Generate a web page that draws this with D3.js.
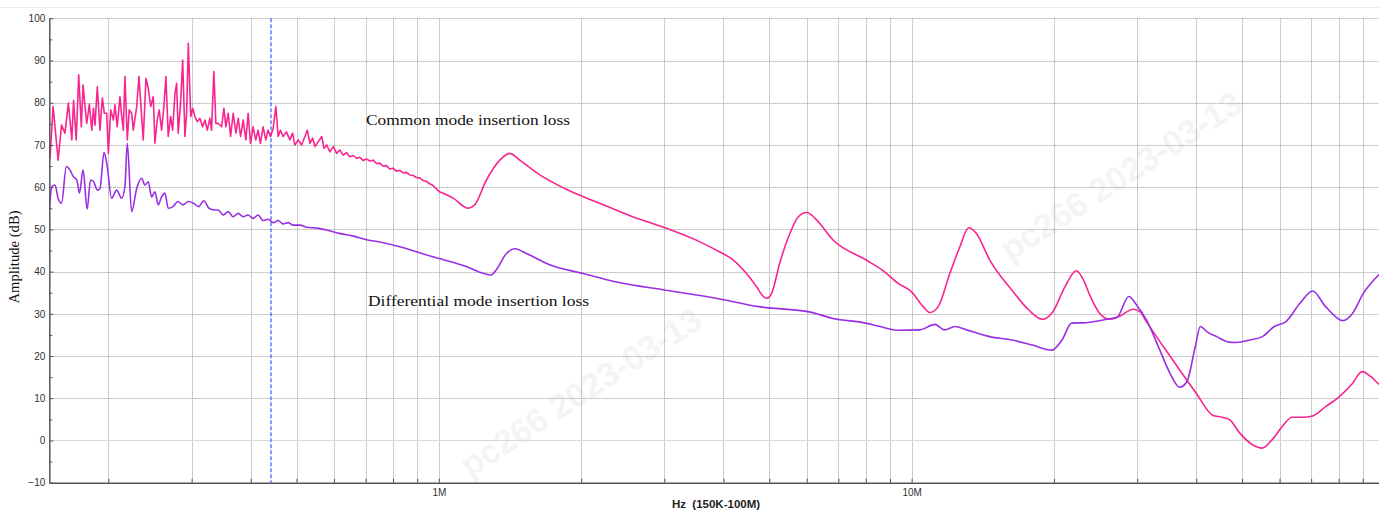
<!DOCTYPE html>
<html>
<head>
<meta charset="utf-8">
<script src="https://cdn.jsdelivr.net/npm/d3@7"></script>
<style>
  body { margin: 0; background: #fff; }
  svg { display: block; background: #fff; }
  .grid line { stroke: #9a9a9a; stroke-width: 1; stroke-dasharray: 1,1; }
  .axis path, .axis line { stroke: #555; }
  .axis path { stroke-width: 1.5; }
  .axis text { font-family: 'Liberation Sans', Arial, sans-serif; font-size: 10px; fill: #333; }
  .note { font-family: 'Liberation Serif', 'Times New Roman', serif; fill: #111; }
  .watermark { font-family: 'Liberation Sans', Arial, sans-serif; font-weight: bold; font-size: 34px; fill: #f4f4f4; }
</style>
</head>
<body>
<div id="chart"></div>
<script>
// frequencies are in MHz, amplitudes in dB
const gridFreqs = [0.2, 0.3, 0.4, 0.5, 0.6, 0.7, 0.8, 0.9, 1, 2, 3, 4, 5, 6, 7, 8, 9, 10, 20, 30, 40, 50, 60, 70, 80, 90]
const xLabelFreqs = [1, 10]
const xLabelText = ['1M', '10M']
const yTicks = [-10, 0, 10, 20, 30, 40, 50, 60, 70, 80, 90, 100]
const yMinorTicks = [-5, 5, 15, 25, 35, 45, 55, 65, 75, 85, 95]
const markerFreq = 0.442
// below this the pink trace is raw noise, drawn with straight segments
const noiseEnd = 1.0

// common mode insertion loss (pink)
const cmFreq = [
  0.1505, 0.1528, 0.1566, 0.1592, 0.1619, 0.1646, 0.1674, 0.1688, 0.1710, 0.1731,
  0.1753, 0.1768, 0.1785, 0.1800, 0.1823, 0.1845, 0.1860, 0.1874, 0.1895, 0.1920,
  0.1942, 0.1961, 0.1984, 0.2000, 0.2023, 0.2050, 0.2065, 0.2088, 0.2116, 0.2133,
  0.2151, 0.2168, 0.2193, 0.2214, 0.2240, 0.2258, 0.2296, 0.2321, 0.2352, 0.2370,
  0.2402, 0.2429, 0.2458, 0.2489, 0.2509, 0.2537, 0.2562, 0.2592, 0.2621, 0.2647,
  0.2677, 0.2708, 0.2735, 0.2766, 0.2789, 0.2810, 0.2843, 0.2872, 0.2904, 0.2928,
  0.2952, 0.2987, 0.3016, 0.3049, 0.3084, 0.3124, 0.3165, 0.3201, 0.3237, 0.3279,
  0.3306, 0.3343, 0.3376, 0.3414, 0.3471, 0.3511, 0.3545, 0.3585, 0.3627, 0.3673,
  0.3722, 0.3764, 0.3808, 0.3856, 0.3907, 0.3951, 0.3996, 0.4047, 0.4100, 0.4146,
  0.4194, 0.4249, 0.4305, 0.4354, 0.4405, 0.4462, 0.4521, 0.4572, 0.4624, 0.4683,
  0.4761, 0.4841, 0.4905, 0.4960, 0.5041, 0.5125, 0.5209, 0.5269, 0.5339, 0.5410,
  0.5471, 0.5560, 0.5653, 0.5717, 0.5793, 0.5880, 0.5981, 0.6080, 0.6174, 0.6275,
  0.6378, 0.6480, 0.6591, 0.6700, 0.6805, 0.6920, 0.7030, 0.7150, 0.7263, 0.7380,
  0.7500, 0.7620, 0.7748, 0.7870, 0.8000, 0.8130, 0.8267, 0.8400, 0.8538, 0.8680,
  0.8820, 0.8960, 0.9112, 0.9260, 0.9413, 0.9560, 0.9720, 1.003, 1.072, 1.153,
  1.191, 1.261, 1.346, 1.413, 1.483, 1.635, 1.86, 2.187, 2.57, 3.02,
  3.56, 3.92, 4.19, 4.47, 4.70, 4.86, 4.94, 5.06, 5.26, 5.53,
  5.76, 6.0, 6.30, 6.82, 8.0, 8.66, 9.37, 10.0, 10.58, 10.93,
  11.38, 12.05, 12.65, 13.2, 13.7, 14.62, 16.3, 17.7, 18.9, 19.9,
  21.1, 22.3, 23.1, 23.8, 25.0, 26.3, 27.6, 29.4, 30.4, 31.4,
  34.1, 36.9, 40.0, 43.3, 45.4, 47.1, 49.4, 52.6, 55.2, 57.9,
  60.8, 63.8, 67.0, 70.5, 75.1, 80.3, 85.6, 89.7, 93.7, 97.2,
  100
]
const cmDb = [
  66.8, 79.1, 66.4, 74.7, 72.8, 79.9, 71.2, 80.6, 71.2, 86.6,
  74.3, 84.2, 79.1, 75.1, 79.7, 73.5, 78.7, 74.7, 83.8, 73.5,
  81.1, 77.5, 77.5, 68.0, 78.3, 75.9, 79.5, 74.3, 81.4, 77.1,
  73.5, 86.2, 71.2, 78.3, 77.5, 73.5, 79.1, 86.2, 76.7, 71.2,
  85.8, 83.4, 79.1, 81.4, 70.4, 75.9, 78.3, 73.5, 79.1, 86.2,
  72.0, 76.7, 73.5, 82.2, 84.6, 72.8, 79.9, 90.1, 72.0, 77.5,
  94.1, 76.7, 78.7, 76.7, 75.5, 76.3, 74.3, 75.9, 73.5, 76.3,
  73.5, 87.4, 75.1, 75.1, 74.3, 78.7, 74.3, 77.5, 72.0, 77.5,
  72.8, 76.3, 72.0, 75.9, 71.2, 77.5, 70.4, 74.3, 71.2, 73.5,
  70.4, 74.3, 71.2, 73.5, 72.0, 73.9, 79.1, 72.0, 73.5, 72.0,
  73.1, 71.2, 72.8, 70.0, 71.2, 70.0, 72.0, 73.5, 70.4, 71.6,
  69.6, 70.8, 72.0, 69.2, 70.0, 68.4, 69.6, 68.0, 68.8, 67.6,
  68.2, 67.2, 67.5, 66.8, 67.1, 66.3, 66.7, 66.2, 66.4, 65.6,
  65.7, 65.0, 65.1, 64.3, 64.5, 63.8, 64.0, 63.4, 63.5, 62.9,
  62.8, 62.3, 62.2, 61.6, 61.4, 60.8, 60.4, 58.9, 57.4, 55.0,
  55.8, 61.7, 66.4, 68.0, 66.4, 62.9, 59.5, 56.2, 53.0, 50.3,
  47.1, 44.7, 42.8, 39.6, 36.4, 34.1, 33.7, 34.9, 42.0, 49.1,
  53.0, 54.0, 52.2, 47.5, 42.8, 40.4, 37.2, 35.2, 31.7, 30.3,
  31.7, 39.6, 45.9, 50.4, 49.1, 42.8, 35.6, 30.9, 28.7, 30.5,
  36.4, 40.2, 38.0, 34.5, 30.1, 28.7, 29.5, 31.1, 30.5, 28.1,
  22.2, 16.7, 11.2, 6.0, 5.5, 4.9, 1.8, -1.0, -1.8, 0.2,
  3.3, 5.5, 5.5, 5.8, 8.0, 10.4, 13.5, 16.3, 15.1, 13.4,
  12.4
]

// differential mode insertion loss (purple)
const dmFreq = [
  0.1500, 0.1518, 0.1542, 0.1566, 0.1592, 0.1630, 0.1658, 0.1686, 0.1715, 0.1738,
  0.1768, 0.1804, 0.1833, 0.1861, 0.1896, 0.1920, 0.1958, 0.1984, 0.2032, 0.2082,
  0.2133, 0.2168, 0.2193, 0.2240, 0.2296, 0.2352, 0.2390, 0.2429, 0.2469, 0.2509,
  0.2550, 0.2592, 0.2634, 0.2677, 0.2740, 0.2806, 0.2876, 0.2952, 0.3026, 0.3105,
  0.3184, 0.3265, 0.3348, 0.3415, 0.3498, 0.3585, 0.3673, 0.3764, 0.3856, 0.3951,
  0.4047, 0.4146, 0.4249, 0.4354, 0.4462, 0.4572, 0.4683, 0.4798, 0.4916, 0.5082,
  0.5260, 0.5534, 0.5755, 0.62, 0.66, 0.70, 0.75, 0.8267, 0.972, 1.144,
  1.241, 1.29, 1.322, 1.39, 1.448, 1.532, 1.716, 2.01, 2.36, 3.02,
  3.86, 4.75, 6.11, 6.82, 8.0, 8.57, 9.37, 10.41, 11.2, 11.74,
  12.35, 13.07, 14.62, 16.3, 18.0, 19.8, 20.8, 21.8, 23.4, 25.9,
  27.2, 28.8, 29.9, 31.4, 33.5, 35.2, 36.9, 38.2, 39.8, 40.8,
  42.1, 44.2, 46.5, 48.7, 51.9, 55.2, 58.5, 61.8, 66.3, 70.5,
  75.1, 81.6, 85.6, 90.3, 97.2, 100
]
const dmDb = [
  54.6, 60.1, 60.5, 57.4, 56.2, 64.9, 64.1, 62.5, 61.7, 58.6,
  64.1, 54.8, 61.7, 61.3, 59.3, 59.7, 68.2, 65.7, 57.4, 59.3,
  57.4, 60.1, 70.4, 54.2, 59.7, 62.1, 60.5, 61.3, 57.7, 58.9,
  55.8, 57.7, 58.6, 55.0, 55.4, 56.6, 55.8, 56.6, 56.2, 55.4,
  56.8, 55.0, 54.6, 54.6, 53.4, 54.2, 53.0, 53.8, 53.0, 53.4,
  52.6, 53.4, 52.1, 52.4, 51.6, 52.1, 51.3, 51.6, 51.0, 51.0,
  50.5, 50.3, 49.9, 49.0, 48.4, 47.6, 47.0, 45.9, 43.5, 41.2,
  39.6, 39.2, 40.4, 44.3, 45.4, 44.3, 41.6, 39.6, 37.6, 35.6,
  33.7, 31.7, 30.4, 28.9, 27.8, 27.0, 26.1, 26.2, 27.5, 26.2,
  27.0, 26.2, 24.6, 23.8, 22.6, 21.4, 23.8, 27.8, 27.9, 28.7,
  29.2, 34.1, 32.1, 28.5, 21.4, 15.9, 12.6, 13.9, 22.2, 27.0,
  25.8, 24.6, 23.4, 23.2, 23.8, 24.6, 27.0, 28.1, 32.5, 35.4,
  31.7, 28.4, 30.1, 34.9, 39.2, 40.5
]

const series = [
  {name: 'Common mode insertion loss', freq: cmFreq, db: cmDb, color: '#f7258f', jagged: true},
  {name: 'Differential mode insertion loss', freq: dmFreq, db: dmDb, color: '#9a2fe2', jagged: false}
]

const width = 1379
const height = 511

const x = d3.scaleLog().domain([0.15, 100]).range([49.3, 1384.4])
const y = d3.scaleLinear().domain([-10, 100]).range([482.7, 18.3])

const svg = d3.select('#chart').append('svg')
    .attr('width', width)
    .attr('height', height)

// faint watermark
const marks = [[470, 478], [1010, 262]]
svg.append('g').selectAll('text').data(marks).join('text')
    .attr('class', 'watermark')
    .attr('transform', d => 'translate(' + d[0] + ',' + d[1] + ')rotate(-33)')
    .text('pc266 2023-03-13')

// thin rule above the plot
svg.append('line')
    .attr('x1', 0).attr('x2', width)
    .attr('y1', 7.5).attr('y2', 7.5)
    .attr('stroke', '#ebebeb')

// vertical grid
svg.append('g').attr('class', 'grid')
  .selectAll('line').data(gridFreqs).join('line')
    .attr('x1', d => Math.round(x(d)) + 0.5)
    .attr('x2', d => Math.round(x(d)) + 0.5)
    .attr('y1', y(100))
    .attr('y2', y(-10))

// horizontal grid (zero line is solid)
svg.append('g').attr('class', 'grid')
  .selectAll('line').data(yTicks.filter(d => d > 0)).join('line')
    .attr('x1', x(0.15))
    .attr('x2', width)
    .attr('y1', d => Math.round(y(d)) + 0.5)
    .attr('y2', d => Math.round(y(d)) + 0.5)
svg.append('line')
    .attr('x1', x(0.15)).attr('x2', width)
    .attr('y1', Math.round(y(0)) + 0.5).attr('y2', Math.round(y(0)) + 0.5)
    .attr('stroke', '#d8d8d8')
    .attr('stroke-width', 1.2)

// marker line
svg.append('line')
    .attr('x1', Math.round(x(markerFreq)))
    .attr('x2', Math.round(x(markerFreq)))
    .attr('y1', y(100))
    .attr('y2', y(-10))
    .attr('stroke', '#4a64ff')
    .attr('stroke-width', 1.3)
    .attr('stroke-dasharray', '4,2')

svg.append('clipPath').attr('id', 'plot')
  .append('rect')
    .attr('x', x(0.15)).attr('y', y(100))
    .attr('width', width - x(0.15)).attr('height', y(-10) - y(100))

const noisyLine = d3.line()
    .x(d => x(d[0]))
    .y(d => y(d[1]))
const smoothLine = d3.line()
    .x(d => x(d[0]))
    .y(d => y(d[1]))
    .curve(d3.curveMonotoneX)

function tracePath (d) {
  const pts = d3.zip(d.freq, d.db)
  if (!d.jagged) return smoothLine(pts)
  const cut = pts.findIndex(p => p[0] >= noiseEnd)
  return noisyLine(pts.slice(0, cut + 1)) + smoothLine(pts.slice(cut)).replace(/^M/, 'L')
}

// draw the curves
svg.append('g').attr('clip-path', 'url(#plot)')
  .selectAll('path').data(series).join('path')
    .attr('d', tracePath)
    .attr('fill', 'none')
    .attr('stroke', d => d.color)
    .attr('stroke-width', 1.6)
    .attr('stroke-linejoin', 'round')

// x axis
const xAxis = d3.axisBottom(x)
    .tickValues(gridFreqs)
    .tickFormat(d => {
      const i = xLabelFreqs.indexOf(d)
      return i < 0 ? '' : xLabelText[i]
    })
    .tickSizeInner(-4)
    .tickSizeOuter(0)
    .tickPadding(6)
svg.append('g')
    .attr('class', 'x axis')
    .attr('transform', 'translate(0,' + y(-10) + ')')
    .call(xAxis)

// y axis
const yAxis = d3.axisLeft(y)
    .tickValues(yTicks)
    .tickFormat(d3.format('d'))
    .tickSizeInner(-4)
    .tickSizeOuter(0)
    .tickPadding(4)
svg.append('g')
    .attr('class', 'y axis')
    .attr('transform', 'translate(' + x(0.15) + ',0)')
    .call(yAxis)
svg.append('g')
    .attr('class', 'y axis minor')
    .attr('transform', 'translate(' + x(0.15) + ',0)')
    .call(d3.axisLeft(y).tickValues(yMinorTicks).tickFormat('').tickSizeInner(-3).tickSizeOuter(0))
  .select('.domain').remove()

// axis titles
svg.append('text')
    .attr('class', 'note')
    .attr('transform', 'translate(19,257)rotate(-90)')
    .attr('text-anchor', 'middle')
    .attr('font-size', 14)
    .attr('textLength', 93)
    .attr('lengthAdjust', 'spacingAndGlyphs')
    .text('Amplitude (dB)')

svg.append('text')
    .attr('x', 716)
    .attr('y', 508)
    .attr('text-anchor', 'middle')
    .style('white-space', 'pre')
    .style('font-family', "'Liberation Sans', Arial, sans-serif")
    .style('font-weight', 'bold')
    .style('font-size', '11.5px')
    .attr('fill', '#222')
    .text('Hz  (150K-100M)')

// curve annotations
const notes = [
  {text: series[0].name, x: 366, y: 125, w: 204},
  {text: series[1].name, x: 368, y: 306, w: 221}
]
svg.append('g').selectAll('text').data(notes).join('text')
    .attr('class', 'note')
    .attr('x', d => d.x)
    .attr('y', d => d.y)
    .attr('font-size', 15.5)
    .attr('textLength', d => d.w)
    .attr('lengthAdjust', 'spacingAndGlyphs')
    .text(d => d.text)
</script>
</body>
</html>
